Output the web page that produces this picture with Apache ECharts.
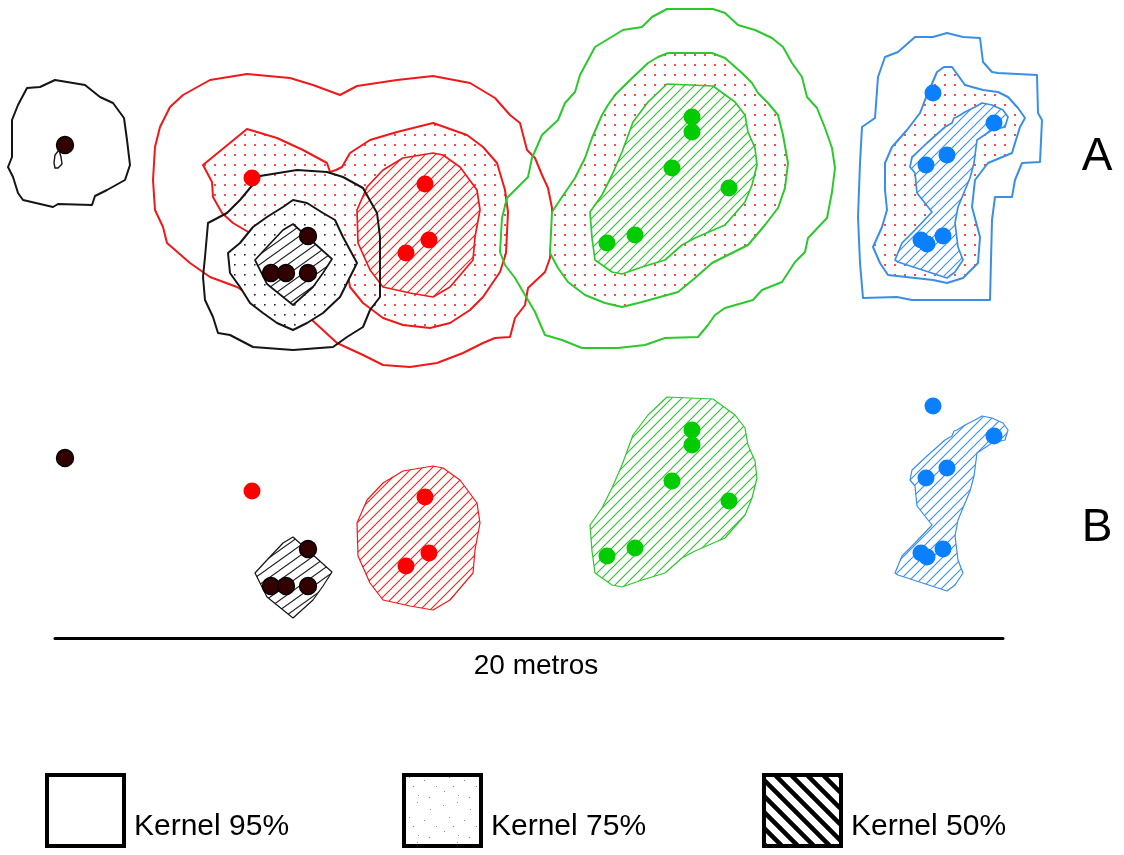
<!DOCTYPE html>
<html><head><meta charset="utf-8">
<script src="https://cdn.jsdelivr.net/npm/echarts@6/dist/echarts.min.js"></script>
<style>html,body{margin:0;padding:0;background:#fff}#c{width:1124px;height:855px}</style>
</head><body><div id="c"></div>
<script>
// ---- Data (map units; y grows downward) ----
const blackIso95 = [[27,88],[40,87],[55,80],[85,85],[100,97],[113,103],[124,118],[127,140],[130,165],[125,180],[107,190],[95,196],[92,205],[58,204],[53,207],[23,200],[18,193],[13,177],[8,167],[12,157],[12,120],[18,105]];
const blackIsoTear = [[59,150],[55,155],[54,163],[55,168],[58,168],[62,164],[61,157]];
const blackIsoPts = [[65,145]];

const black95 = [[250,188],[260,176],[297,170],[327,172],[343,177],[363,188],[377,213],[380,237],[380,270],[380,297],[370,310],[363,327],[347,337],[333,347],[293,350],[253,347],[230,335],[218,333],[213,317],[205,300],[203,277],[205,257],[208,223],[227,213],[240,200]];
const black75 = [[293,200],[307,203],[323,213],[335,220],[343,237],[357,263],[350,277],[340,297],[323,313],[307,323],[293,330],[277,323],[263,313],[250,303],[240,287],[230,273],[228,253],[240,243],[253,227],[267,217],[283,207]];
const black50 = [[293,224],[332,259],[323,273],[313,287],[293,305],[267,284],[255,260],[267,247],[283,230]];
const blackPts = [[308,236],[271,273],[286,273],[308,273]];

const red95 = [[247,74],[290,78],[313,85],[340,95],[357,86],[397,80],[433,76],[470,83],[495,98],[510,115],[520,123],[527,150],[535,158],[542,175],[548,188],[552,208],[552,230],[550,258],[545,272],[528,288],[525,305],[515,318],[510,337],[495,338],[483,343],[463,353],[437,363],[410,367],[383,365],[363,355],[337,343],[312,320],[290,318],[265,305],[237,287],[210,277],[190,263],[167,243],[163,227],[155,210],[153,180],[155,147],[160,127],[170,107],[183,95],[210,80]];
const red75 = [[247,129],[277,138],[303,150],[327,163],[330,172],[336,170],[342,167],[350,153],[370,140],[397,132],[433,123],[467,135],[483,147],[497,163],[505,190],[508,212],[506,253],[500,272],[483,297],[470,310],[450,323],[430,328],[403,325],[383,318],[363,303],[350,287],[347,270],[300,265],[250,233],[233,223],[222,213],[213,197],[212,182],[203,165]];
const red50 = [[433,153],[443,155],[460,167],[477,190],[480,210],[475,237],[473,260],[450,287],[433,297],[410,293],[383,287],[370,270],[358,243],[357,210],[367,187],[383,170],[403,158]];
const redPts = [[252,178],[425,184],[429,240],[406,253]];

const green95 = [[667,9],[713,9],[725,13],[738,25],[755,30],[772,38],[783,47],[792,63],[802,77],[807,97],[817,108],[825,128],[832,148],[835,168],[832,192],[827,218],[808,238],[805,252],[795,262],[782,282],[762,290],[753,300],[725,308],[715,315],[708,325],[698,337],[665,338],[645,345],[618,348],[582,348],[562,340],[545,335],[535,312],[525,295],[515,278],[505,265],[500,252],[502,218],[507,198],[528,177],[532,158],[542,135],[558,120],[565,103],[575,92],[580,75],[595,47],[623,30],[642,27],[652,17]];
const green75 = [[658,57],[668,53],[712,53],[725,58],[742,73],[752,83],[758,93],[768,103],[778,115],[783,135],[788,163],[785,188],[778,208],[765,225],[748,245],[728,255],[712,263],[695,278],[678,292],[642,302],[622,307],[605,303],[585,295],[568,282],[558,268],[550,253],[552,212],[562,197],[575,178],[585,158],[592,138],[602,115],[608,105],[615,95],[628,82],[648,63]];
const green50 = [[667,84],[713,86],[735,102],[745,115],[748,132],[755,148],[757,165],[752,185],[745,202],[725,225],[695,238],[682,245],[665,260],[642,267],[622,274],[612,272],[595,260],[592,238],[590,212],[602,195],[612,175],[622,152],[633,122],[648,102]];
const greenPts = [[692,117],[692,132],[672,168],[729,188],[635,235],[607,243]];

const blue95 = [[915,37],[933,37],[947,33],[963,37],[980,38],[983,62],[992,72],[998,73],[1037,75],[1038,113],[1042,120],[1040,162],[1022,163],[1015,180],[1012,197],[995,197],[992,220],[990,300],[957,300],[912,300],[897,297],[863,298],[860,263],[858,217],[860,163],[862,127],[875,118],[878,77],[885,57],[898,52]];
const blue75 = [[944,67],[952,67],[965,85],[983,90],[998,92],[1008,97],[1018,108],[1025,118],[1020,127],[1015,143],[1012,153],[988,163],[975,180],[972,207],[980,237],[978,263],[963,278],[947,283],[933,280],[888,275],[880,263],[873,247],[882,227],[887,210],[885,190],[885,163],[892,147],[907,130],[920,113],[925,100],[937,72]];
const blue50 = [[982,103],[992,105],[1003,110],[1008,117],[1005,127],[992,130],[977,140],[974,163],[970,178],[958,207],[955,223],[958,247],[963,260],[955,272],[947,278],[898,262],[895,260],[902,243],[915,230],[932,212],[917,193],[915,173],[910,167],[912,157],[927,143],[945,127],[952,123],[954,118],[957,117],[965,112],[975,107]];
const bluePts = [[933,93],[994,123],[947,155],[926,165],[921,240],[927,244],[943,236]];

const panelLabels = ['A', 'B'];
const legendLabels = ['Kernel 95%', 'Kernel 75%', 'Kernel 50%'];
const scaleBarMeters = 20;
const scaleBarLabel = '20 metros';

// ---- Patterns ----
function tile(w, h, draw, bg) {
  const c = document.createElement('canvas');
  c.width = w; c.height = h;
  const g = c.getContext('2d');
  if (bg) { g.fillStyle = bg; g.fillRect(0, 0, w, h); }
  draw(g, w, h);
  return { image: c, repeat: 'repeat' };
}
function hatch(color, w, h, lw) { // "/" lines
  return tile(w, h, (g) => {
    g.strokeStyle = color; g.lineWidth = lw; g.beginPath();
    g.moveTo(0, h); g.lineTo(w, 0);
    g.moveTo(-w, h); g.lineTo(w, -h);
    g.moveTo(0, 2 * h); g.lineTo(2 * w, 0);
    g.stroke();
  }, '#fff');
}
function backHatch(color, s, lw) { // "\" lines
  return tile(s, s, (g) => {
    g.strokeStyle = color; g.lineWidth = lw; g.beginPath();
    g.moveTo(-s, -s); g.lineTo(2 * s, 2 * s);
    g.moveTo(-s, 0); g.lineTo(s, 2 * s);
    g.moveTo(0, -s); g.lineTo(2 * s, s);
    g.stroke();
  }, '#fff');
}
function stipple(color, s, d) {
  return tile(s, s, (g) => { g.fillStyle = color; g.fillRect(4, 4, d, d); }, '#fff');
}
const sparse = tile(40, 40, (g) => {
  g.fillStyle = '#888';
  [[3,5],[17,2],[30,9],[9,17],[24,20],[36,26],[4,31],[18,35],[29,37],[13,26]].forEach(p => g.fillRect(p[0], p[1], 1, 1));
}, '#fff');

const C = {
  black: { line: '#151515', hatch: hatch('#222', 14, 10, 1.1), dots: stipple('#222', 10, 1.6) },
  red: { line: '#f01818', hatch: hatch('#f22', 10, 10, 1.1), dots: stipple('#ff4a4a', 10, 2) },
  green: { line: '#2cc82c', hatch: hatch('#2fbf2f', 10, 10, 1.1), dots: stipple('#ff4a4a', 10, 2) },
  blue: { line: '#3a8ee6', hatch: hatch('#3a8ee6', 10, 10, 1.1), dots: stipple('#ff4a4a', 10, 2) }
};

function poly(pts, grid, style) {
  return {
    type: 'custom', coordinateSystem: 'cartesian2d', xAxisIndex: grid, yAxisIndex: grid,
    data: pts, encode: { x: 0, y: 1 }, silent: true, clip: false, animation: false,
    renderItem: (params, api) => {
      if (params.dataIndex !== 0) return;
      return { type: 'polygon', shape: { points: pts.map(p => api.coord(p)) }, style: style };
    }
  };
}
function k95(pts, col, grid) { return poly(pts, grid, { fill: 'none', stroke: C[col].line, lineWidth: 2, lineJoin: 'round' }); }
function k75(pts, col, grid) { return poly(pts, grid, { fill: C[col].dots, stroke: C[col].line, lineWidth: 2, lineJoin: 'round' }); }
function k50(pts, col, grid, lw) { return poly(pts, grid, { fill: C[col].hatch, stroke: C[col].line, lineWidth: lw, lineJoin: 'round' }); }
function pts(data, grid, color, border) {
  return {
    type: 'scatter', xAxisIndex: grid, yAxisIndex: grid, data: data, symbolSize: 17, silent: true,
    animation: false, z: 5,
    itemStyle: { color: color, borderColor: border || color, borderWidth: border ? 1.4 : 0, opacity: 1 }
  };
}

const series = [
  // Panel A
  k95(red95, 'red', 0), k75(red75, 'red', 0), k50(red50, 'red', 0, 1.7),
  k95(green95, 'green', 0), k75(green75, 'green', 0), k50(green50, 'green', 0, 1.7),
  k95(blue95, 'blue', 0), k75(blue75, 'blue', 0), k50(blue50, 'blue', 0, 1.7),
  k95(blackIso95, 'black', 0),
  poly(blackIsoTear, 0, { fill: '#fff', stroke: C.black.line, lineWidth: 1.4 }),
  k95(black95, 'black', 0), k75(black75, 'black', 0), k50(black50, 'black', 0, 1.7),
  pts(redPts, 0, '#ff0000'), pts(greenPts, 0, '#00cc00'), pts(bluePts, 0, '#0a80ff'),
  pts(blackIsoPts, 0, '#330000', '#000'), pts(blackPts, 0, '#330000', '#000'),
  // Panel B
  k50(red50, 'red', 1, 1.2), k50(green50, 'green', 1, 1.2), k50(blue50, 'blue', 1, 1.2), k50(black50, 'black', 1, 1.2),
  pts(redPts, 1, '#ff0000'), pts(greenPts, 1, '#00cc00'), pts(bluePts, 1, '#0a80ff'),
  pts(blackIsoPts, 1, '#330000', '#000'), pts(blackPts, 1, '#330000', '#000')
];

const hidden = { show: false };
const font = '"Liberation Sans", Arial, sans-serif';
const legendFills = ['#fff', sparse, backHatch('#000', 16, 4.5)];
const legendX = [45, 402, 762];
const graphic = [];
legendLabels.forEach((t, i) => {
  graphic.push({ type: 'rect', shape: { x: legendX[i] + 2, y: 775, width: 77, height: 71 }, style: { fill: legendFills[i], stroke: '#000', lineWidth: 4 }, silent: true });
  graphic.push({ type: 'text', x: legendX[i] + 89, y: 827, style: { text: t, font: '30px ' + font, fill: '#000', textVerticalAlign: 'middle', verticalAlign: 'middle' }, silent: true });
});
const labelY = [157, 528];
panelLabels.forEach((t, i) => {
  graphic.push({ type: 'text', x: 1097, y: labelY[i], style: { text: t, font: '46px ' + font, fill: '#000', textAlign: 'center', align: 'center', textVerticalAlign: 'middle', verticalAlign: 'middle' }, silent: true });
});

const option = {
  backgroundColor: '#fff',
  animation: false,
  grid: [
    { left: 0, top: 0, width: 1124, height: 400 },
    { left: 0, top: 313, width: 1124, height: 400 },
    { left: 55, top: 598, width: 948, height: 40 }
  ],
  xAxis: [
    { type: 'value', gridIndex: 0, min: 0, max: 1124, show: false },
    { type: 'value', gridIndex: 1, min: 0, max: 1124, show: false },
    { type: 'value', gridIndex: 2, min: 0, max: scaleBarMeters, show: true,
      axisLine: { show: true, lineStyle: { color: '#000', width: 3 } }, axisTick: hidden, axisLabel: hidden, splitLine: hidden,
      name: scaleBarLabel, nameLocation: 'middle', nameGap: 14,
      nameTextStyle: { fontSize: 28, color: '#000', fontFamily: font, verticalAlign: 'top', padding: [0, 0, 0, 14] } }
  ],
  yAxis: [
    { type: 'value', gridIndex: 0, min: 0, max: 400, inverse: true, show: false },
    { type: 'value', gridIndex: 1, min: 0, max: 400, inverse: true, show: false },
    { type: 'value', gridIndex: 2, min: 0, max: 1, show: false }
  ],
  graphic: graphic,
  series: series
};
const chart = echarts.init(document.getElementById('c'), null, { renderer: 'canvas' });
chart.setOption(option);
</script>
</body></html>
